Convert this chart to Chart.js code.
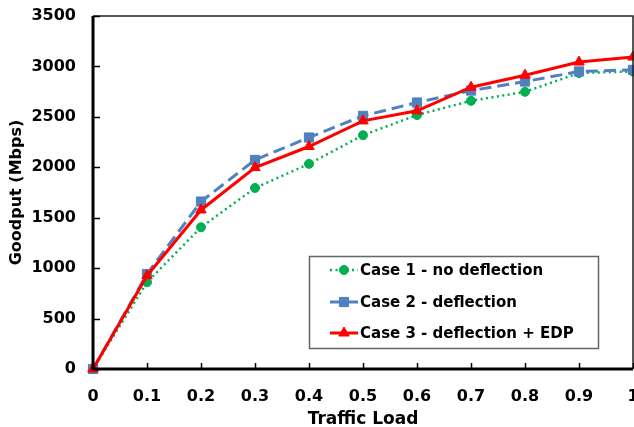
<!DOCTYPE html>
<html>
<head>
<meta charset="utf-8">
<script src="https://cdn.jsdelivr.net/npm/chart.js@4.4.1/dist/chart.umd.min.js"></script>
<style>
  html, body { margin:0; padding:0; background:#fff; overflow:hidden; }
  #wrap { position:relative; width:660px; height:427px; }
</style>
</head>
<body>
<div id="wrap"><canvas id="c" width="660" height="427"></canvas></div>
<script>
const loads = [0, 0.1, 0.2, 0.3, 0.4, 0.5, 0.6, 0.7, 0.8, 0.9, 1.0];
const case1NoDeflection = [0, 860, 1405, 1795, 2034, 2318, 2518, 2659, 2748, 2935, 2950];
const case2Deflection   = [0, 942, 1660, 2073, 2295, 2510, 2642, 2761, 2850, 2950, 2966];
const case3DeflectionEDP = [0, 925, 1577, 1997, 2206, 2460, 2560, 2794, 2913, 3043, 3093];
const seriesNames = ['Case 1 - no deflection', 'Case 2 - deflection', 'Case 3 - deflection + EDP'];
const xTitle = 'Traffic Load';
const yTitle = 'Goodput (Mbps)';

const FONT = 'DejaVu Sans';
const pts = arr => arr.map((v, i) => ({x: loads[i], y: v}));

const framePlugin = {
  id: 'frame',
  afterDraw(chart) {
    const {ctx, chartArea: a, scales} = chart;
    ctx.save();
    ctx.strokeStyle = '#222';
    ctx.lineWidth = 1.5;
    ctx.beginPath();
    ctx.moveTo(a.left, a.top); ctx.lineTo(a.right, a.top); ctx.lineTo(a.right, a.bottom);
    ctx.stroke();
    ctx.strokeStyle = '#000';
    ctx.lineWidth = 1.5;
    ctx.beginPath();
    scales.y.ticks.forEach(t => {
      const y = Math.round(scales.y.getPixelForValue(t.value)) + 0.5;
      ctx.moveTo(a.left, y); ctx.lineTo(a.left + 7, y);
    });
    scales.x.ticks.forEach(t => {
      const x = Math.round(scales.x.getPixelForValue(t.value)) + 0.5;
      ctx.moveTo(x, a.bottom); ctx.lineTo(x, a.bottom - 6);
    });
    ctx.stroke();
    ctx.lineWidth = 3;
    ctx.beginPath();
    ctx.moveTo(a.left, a.top); ctx.lineTo(a.left, a.bottom); ctx.lineTo(a.right, a.bottom);
    ctx.stroke();
    ctx.restore();
  }
};

const legendPlugin = {
  id: 'boxLegend',
  afterDraw(chart) {
    const ctx = chart.ctx;
    const bx = 309, by = 256, bw = 289, bh = 92;
    ctx.save();
    ctx.fillStyle = '#fff';
    ctx.fillRect(bx, by, bw, bh);
    ctx.strokeStyle = '#666';
    ctx.lineWidth = 1.5;
    ctx.strokeRect(bx + 0.5, by + 0.5, bw, bh);
    const rows = [270, 302, 333];
    chart.data.datasets.forEach((ds, i) => {
      const y = rows[i];
      ctx.strokeStyle = ds.borderColor;
      ctx.lineWidth = ds.borderWidth;
      ctx.setLineDash(ds.borderDash || []);
      ctx.beginPath(); ctx.moveTo(330, y); ctx.lineTo(358, y); ctx.stroke();
      ctx.setLineDash([]);
      ctx.fillStyle = ds.backgroundColor;
      ctx.strokeStyle = ds.pointBorderColor;
      ctx.lineWidth = 1;
      Chart.helpers.drawPoint(ctx, {pointStyle: ds.pointStyle, radius: ds.pointRadius, borderWidth: 1}, 344, y);
      ctx.fillStyle = '#000';
      ctx.font = 'bold 15px "' + FONT + '"';
      ctx.textBaseline = 'middle';
      ctx.textAlign = 'left';
      ctx.fillText(ds.label, 360, y + 1);
    });
    ctx.restore();
  }
};

new Chart(document.getElementById('c'), {
  type: 'line',
  data: {
    datasets: [
      { label: seriesNames[0], data: pts(case1NoDeflection), borderColor: '#00b050', backgroundColor: '#00b050',
        borderWidth: 2.5, borderDash: [2, 3.5], pointStyle: 'circle', pointRadius: 4.5, pointBorderWidth: 1,
        pointBorderColor: '#00b050', order: 3, clip: false },
      { label: seriesNames[1], data: pts(case2Deflection), borderColor: '#4f81bd', backgroundColor: '#4f81bd',
        borderWidth: 3, borderDash: [12, 6], pointStyle: 'rect', pointRadius: 6.5, pointBorderWidth: 1,
        pointBorderColor: '#4f81bd', order: 2, clip: false },
      { label: seriesNames[2], data: pts(case3DeflectionEDP), borderColor: '#ff0000', backgroundColor: '#ff0000',
        borderWidth: 3, pointStyle: 'triangle', pointRadius: 6, pointBorderWidth: 1,
        pointBorderColor: '#ff0000', order: 1, clip: false }
    ]
  },
  options: {
    responsive: false,
    animation: false,
    layout: { padding: { left: 0, top: 16, right: 27, bottom: 0 } },
    plugins: { legend: { display: false }, tooltip: { enabled: false } },
    scales: {
      x: {
        type: 'linear', min: 0, max: 1,
        grid: { display: false, drawTicks: false },
        border: { display: false },
        ticks: { stepSize: 0.1, padding: 18, color: '#000', font: { family: FONT, size: 16, weight: 'bold' },
          callback: v => String(Number(v.toFixed(1))), maxRotation: 0, autoSkip: false },
        title: { display: true, text: xTitle, color: '#000', font: { family: FONT, size: 17, weight: 'bold' }, padding: {top: 0, bottom: -3} },
        afterFit: s => { s.height = 58; s.paddingLeft = 0; s.paddingRight = 0; }
      },
      y: {
        min: 0, max: 3500,
        grid: { display: false, drawTicks: false },
        border: { display: false },
        ticks: { stepSize: 500, padding: 17, color: '#000', font: { family: FONT, size: 16, weight: 'bold' },
          callback: v => String(v) },
        title: { display: true, text: yTitle, color: '#000', font: { family: FONT, size: 16, weight: 'bold' }, padding: {top: 7, bottom: 4} },
        afterFit: s => { s.width = 93; s.paddingTop = 0; s.paddingBottom = 0; }
      }
    }
  },
  plugins: [framePlugin, legendPlugin]
});
</script>
</body>
</html>
